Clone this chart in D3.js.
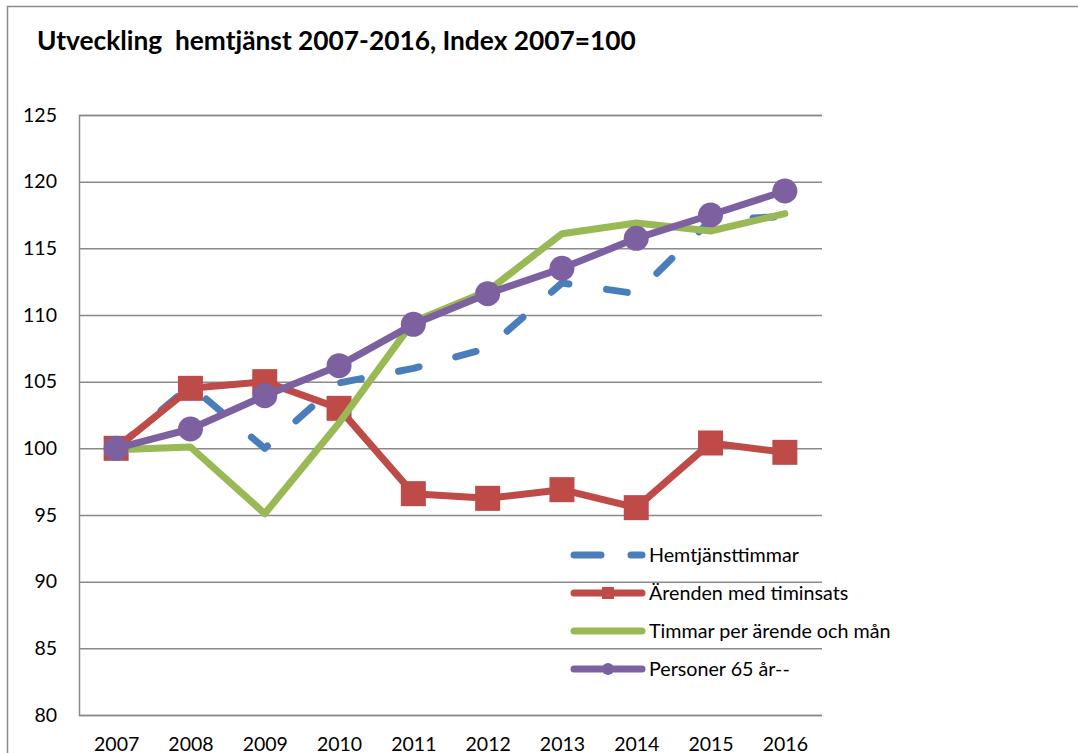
<!DOCTYPE html>
<html><head><meta charset="utf-8">
<script src="https://cdn.jsdelivr.net/npm/d3@7"></script>
<style>
html,body{margin:0;padding:0;background:#fff;}
svg{display:block;}
text{font-family:Lato,"Open Sans",sans-serif;fill:#000;white-space:pre;}
</style></head>
<body>
<svg id="c" width="1078" height="753"></svg>
<script>
const years = ["2007","2008","2009","2010","2011","2012","2013","2014","2015","2016"];
const hemtjansttimmar = [100,104.7,100,104.9,106.0,107.5,112.4,111.6,117.1,117.4];
const arenden = [100,104.5,105.0,103.0,96.6,96.25,96.9,95.55,100.4,99.7];
const timmarPerArende = [99.9,100.1,95.1,101.9,109.5,111.8,116.1,116.9,116.3,117.6];
const personer65 = [100,101.45,103.95,106.2,109.3,111.6,113.5,115.75,117.5,119.3];
const yTicks = [80,85,90,95,100,105,110,115,120,125];
const titleText = "Utveckling  hemtjänst 2007-2016, Index 2007=100";

const series = [
  {name:"Hemtjänsttimmar", values:hemtjansttimmar, color:"#4A7EBB", dash:"21,38", marker:null},
  {name:"Ärenden med timinsats", values:arenden, color:"#BE4B48", dash:null, marker:"square"},
  {name:"Timmar per ärende och mån", values:timmarPerArende, color:"#98B954", dash:null, marker:null},
  {name:"Personer 65 år--", values:personer65, color:"#7D60A0", dash:null, marker:"circle"}
];

const svg = d3.select("#c");
const plot = {left:79, right:822, top:115, bottom:715};

// outer frame
svg.append("path").attr("d","M7.5,753 L7.5,6.5 L1078,6.5")
  .attr("fill","none").attr("stroke","#8a8a8a").attr("stroke-width",1.5);

// title
const title = svg.append("text").attr("x",37).attr("y",50)
  .attr("font-weight","bold").attr("font-size",20).text(titleText);
const tw = title.node().getComputedTextLength();
title.attr("font-size", 20*599/tw);

const x = d3.scalePoint().domain(years).range([plot.left, plot.right]).padding(0.5);
const y = d3.scaleLinear().domain([80,125]).range([plot.bottom, plot.top]);

// gridlines
const yAxis = d3.axisLeft(y).tickValues(yTicks).tickSize(-(plot.right-plot.left)).tickPadding(22).tickFormat(d3.format("d"));
const gy = svg.append("g").attr("transform",`translate(${plot.left},0)`).call(yAxis);
gy.select(".domain").attr("stroke","#8a8a8a").attr("stroke-width",1.5);
gy.selectAll(".tick line").attr("stroke","#8a8a8a").attr("stroke-width",1.5);
gy.selectAll(".tick text").attr("font-size",19.5).attr("font-family","Lato,sans-serif").attr("fill","#000");

const xAxis = d3.axisBottom(x).tickSize(0).tickPadding(22);
const gx = svg.append("g").attr("transform",`translate(0,${plot.bottom})`).call(xAxis);
gx.select(".domain").remove();
gx.selectAll(".tick text").attr("font-size",19.5).attr("font-family","Lato,sans-serif").attr("fill","#000");

const line = d3.line().x((d,i)=>x(years[i])).y(d=>y(d));

series.forEach(s=>{
  const g = svg.append("g");
  const p = g.append("path").datum(s.values).attr("d",line)
    .attr("fill","none").attr("stroke",s.color).attr("stroke-width",7)
    .attr("stroke-linejoin","round").attr("stroke-linecap","round");
  if(s.dash) p.attr("stroke-dasharray",s.dash);
  if(s.marker==="square"){
    g.selectAll("rect").data(s.values).join("rect")
      .attr("x",(d,i)=>x(years[i])-12.5).attr("y",d=>y(d)-12.5)
      .attr("width",25).attr("height",25).attr("fill",s.color);
  } else if(s.marker==="circle"){
    g.selectAll("circle").data(s.values).join("circle")
      .attr("cx",(d,i)=>x(years[i])).attr("cy",d=>y(d)).attr("r",12.5).attr("fill",s.color);
  }
});

// legend
const legY = [555,593,631,669];
series.forEach((s,i)=>{
  const g = svg.append("g").attr("transform",`translate(0,${legY[i]})`);
  const l = g.append("line").attr("x1",574).attr("x2",642).attr("y1",0).attr("y2",0)
    .attr("stroke",s.color).attr("stroke-width",7).attr("stroke-linecap","round");
  if(s.dash) l.attr("stroke-dasharray","27,30");
  if(s.marker==="square") g.append("rect").attr("x",602).attr("y",-6).attr("width",12).attr("height",12).attr("fill",s.color);
  if(s.marker==="circle") g.append("circle").attr("cx",608).attr("cy",0).attr("r",6).attr("fill",s.color);
  g.append("text").attr("x",649).attr("y",0).attr("dy","0.35em").attr("font-size",19.7).text(s.name);
});
</script>
</body></html>
